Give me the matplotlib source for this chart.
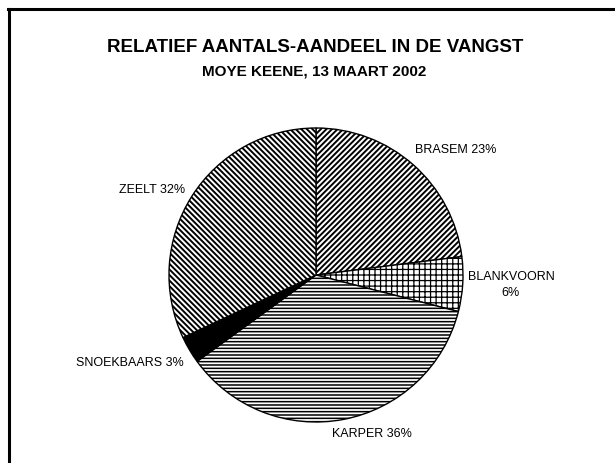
import matplotlib
matplotlib.use("Agg")
import matplotlib.pyplot as plt
from matplotlib.lines import Line2D

plt.rcParams['font.family'] = ['Liberation Sans', 'DejaVu Sans']

categories = ["BRASEM", "BLANKVOORN", "KARPER", "SNOEKBAARS", "ZEELT"]
values = [23, 6, 36, 3, 32]
label_texts = ["BRASEM 23%", "BLANKVOORN\n6%", "KARPER 36%", "SNOEKBAARS 3%", "ZEELT 32%"]
hatches = ["//////", "+++", "-----", None, "\\\\\\\\\\\\"]
faces = ["white", "white", "white", "black", "white"]
hatch_lws = [1.4, 0.9, 1.1, 1.0, 1.4]

fig = plt.figure(figsize=(6.15, 4.63), dpi=100)
fig.patch.set_facecolor("white")

# frame (cropped rectangle: top and left edges)
fig.add_artist(Line2D([8/615, 1.0], [1 - 9/463, 1 - 9/463], color="black", lw=2.2,
                      transform=fig.transFigure, solid_capstyle="projecting"))
fig.add_artist(Line2D([9/615, 9/615], [1 - 9/463, 0.0], color="black", lw=2.2,
                      transform=fig.transFigure, solid_capstyle="projecting"))

fig.text(315/615, 1 - 48/463, "RELATIEF AANTALS-AANDEEL IN DE VANGST",
         ha="center", va="center", fontsize=13.5, fontweight="bold")
fig.text(314/615, 1 - 72/463, "MOYE KEENE, 13 MAART 2002",
         ha="center", va="center", fontsize=11, fontweight="bold")

cx, cy, r = 316, 275, 147
ax = fig.add_axes([(cx - r)/615, (463 - cy - r)/463, 2*r/615, 2*r/463])
wedges, _ = ax.pie(values, startangle=90, counterclock=False, radius=1,
                   wedgeprops=dict(edgecolor="black", linewidth=1.0))
for w, h, fc, hl in zip(wedges, hatches, faces, hatch_lws):
    w.set_facecolor(fc)
    if h:
        w.set_hatch(h)
        if hasattr(w, "set_hatch_linewidth"):
            w.set_hatch_linewidth(hl)
ax.set_xlim(-1, 1)
ax.set_ylim(-1, 1)
ax.set_aspect("equal")
ax.axis("off")

# label positions (pixel coords in reference)
label_pos = [(415, 150, "left"), (511, 285, "center"), (372, 434, "center"),
             (184, 363, "right"), (185, 190, "right")]
for txt, (x, y, ha) in zip(label_texts, label_pos):
    fig.text(x/615, 1 - y/463, txt, ha=ha, va="center", fontsize=9,
             multialignment="center", linespacing=1.35)

fig.savefig("out.png", dpi=100, facecolor="white")
